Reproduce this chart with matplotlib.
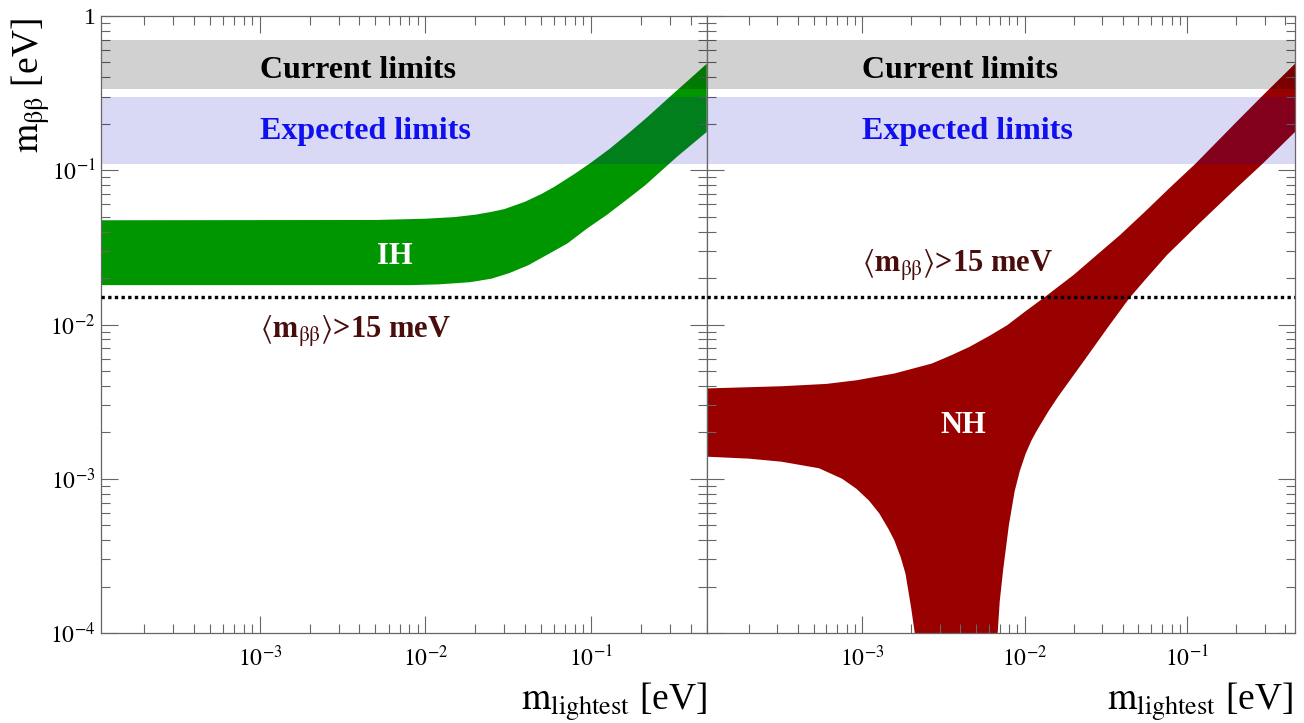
import numpy as np
import matplotlib
matplotlib.use("Agg")
import matplotlib.pyplot as plt
from matplotlib.ticker import FixedLocator, FixedFormatter, LogLocator, NullFormatter

# ---------------- data ----------------
# Inverted hierarchy band (left panel)
ih_up_x = [1.1e-4, 5e-3, 1e-2, 1.5e-2, 2e-2, 2.5e-2, 3e-2, 4e-2, 5e-2, 6e-2, 8e-2,
           0.1, 0.13, 0.17, 0.22, 0.3, 0.4, 0.5]
ih_up_y = [0.0474, 0.0476, 0.0485, 0.0497, 0.0515, 0.0537, 0.056, 0.0625, 0.070, 0.078,
           0.095, 0.112, 0.138, 0.175, 0.222, 0.30, 0.395, 0.49]
ih_lo_x = [1.1e-4, 8.2e-3, 1.2e-2, 1.86e-2, 2.5e-2, 3.2e-2, 4.18e-2, 5.5e-2, 7.2e-2,
           9.5e-2, 1.24e-1, 0.16, 2.13e-1, 0.33, 0.5]
ih_lo_y = [0.018, 0.018, 0.0182, 0.0188, 0.0198, 0.0215, 0.0242, 0.0285, 0.0335,
           0.042, 0.0511, 0.063, 0.080, 0.122, 0.177]

# Normal hierarchy band (right panel)
nh_up_x = [1.1e-4, 3.2e-4, 6e-4, 9.2e-4, 1.57e-3, 2.67e-3, 3.5e-3, 4.56e-3, 6e-3, 7.78e-3,
           1e-2, 1.33e-2, 2e-2, 2.8e-2, 3.85e-2, 5.5e-2, 7.8e-2, 0.112, 0.2, 0.3, 0.46]
nh_up_y = [0.00385, 0.00398, 0.00412, 0.00435, 0.00481, 0.00558, 0.0063, 0.00716, 0.0084,
           0.00989, 0.0121, 0.0151, 0.021, 0.0285, 0.038, 0.054, 0.077, 0.110, 0.205,
           0.315, 0.49]
nh_loL_x = [1.1e-4, 2e-4, 3.17e-4, 5.4e-4, 7.5e-4, 9.2e-4, 1.1e-3, 1.27e-3, 1.45e-3,
            1.57e-3, 1.72e-3, 1.84e-3, 1.99e-3, 2.1e-3]
nh_loL_y = [0.00139, 0.00135, 0.00129, 0.00117, 1.0e-3, 8.6e-4, 7.2e-4, 5.96e-4, 4.7e-4,
            4.0e-4, 3.1e-4, 2.43e-4, 1.48e-4, 1.0e-4]
nh_loR_x = [6.8e-3, 7.0e-3, 7.36e-3, 7.97e-3, 8.65e-3, 9.3e-3, 1.01e-2, 1.1e-2, 1.19e-2,
            1.4e-2, 1.6e-2, 2.36e-2, 3.27e-2, 4.39e-2, 5.5e-2, 7.49e-2, 0.12, 0.2, 0.29, 0.46]
nh_loR_y = [1.0e-4, 1.6e-4, 2.6e-4, 5.0e-4, 8.3e-4, 1.12e-3, 1.45e-3, 1.78e-3, 2.07e-3,
            2.75e-3, 3.4e-3, 6.0e-3, 0.0097, 0.0148, 0.0195, 0.0282, 0.0458, 0.0765, 0.110, 0.177]

current_limits = (0.335, 0.70)
expected_limits = (0.11, 0.30)
sensitivity = 0.015

xtick_vals = [1e-3, 1e-2, 1e-1]
xtick_labels = [r"$10^{-3}$", r"$10^{-2}$", r"$10^{-1}$"]
ytick_vals = [1e-4, 1e-3, 1e-2, 1e-1, 1.0]
ytick_labels = [r"$10^{-4}$", r"$10^{-3}$", r"$10^{-2}$", r"$10^{-1}$", "1"]

# ---------------- style ----------------
plt.rcParams["font.family"] = ["Liberation Serif", "DejaVu Serif"]
plt.rcParams["mathtext.fontset"] = "stix"

GREEN = "#009600"
RED = "#990000"
AXC = "#666666"

W, H = 1304, 723
fig = plt.figure(figsize=(W / 100, H / 100), dpi=100)


def rect(x0, x1, y0, y1):
    return [x0 / W, 1 - y1 / H, (x1 - x0) / W, (y1 - y0) / H]


axL = fig.add_axes(rect(101, 706.7, 16, 633))
axR = fig.add_axes(rect(706.7, 1295, 16, 633))
axL.set_xlim(1.1e-4, 0.5)
axR.set_xlim(1.1e-4, 0.46)

for ax in (axL, axR):
    ax.set_xscale("log")
    ax.set_yscale("log")
    ax.set_ylim(1e-4, 1.0)
    ax.xaxis.set_major_locator(FixedLocator(xtick_vals))
    ax.xaxis.set_major_formatter(FixedFormatter(xtick_labels))
    ax.yaxis.set_major_locator(FixedLocator(ytick_vals))
    ax.yaxis.set_major_formatter(FixedFormatter(ytick_labels))
    ax.xaxis.set_minor_locator(LogLocator(base=10, subs=np.arange(2, 10), numticks=30))
    ax.yaxis.set_minor_locator(LogLocator(base=10, subs=np.arange(2, 10), numticks=30))
    ax.xaxis.set_minor_formatter(NullFormatter())
    ax.yaxis.set_minor_formatter(NullFormatter())
    ax.tick_params(which="both", direction="in", top=True, right=True,
                   color=AXC, width=0.8, labelsize=17)
    ax.tick_params(which="major", length=12.5)
    ax.tick_params(which="minor", length=6.5)
    ax.tick_params(axis="x", pad=9)
    ax.tick_params(axis="y", pad=4)
    for s in ax.spines.values():
        s.set_color(AXC)
        s.set_linewidth(0.9)
    ax.axhspan(*current_limits, facecolor="black", alpha=0.18, lw=0, zorder=2)
    ax.axhspan(*expected_limits, facecolor="#0000c0", alpha=0.15, lw=0, zorder=2)
    ax.axhline(sensitivity, color="black", lw=2.4, linestyle=(0, (1, 1.0)), zorder=3)
    ax.text(1e-3, 0.399, "Current limits", fontweight="bold", fontsize=23,
            ha="left", va="baseline", color="black", zorder=5)
    ax.text(1e-3, 0.160, "Expected limits", fontweight="bold", fontsize=23,
            ha="left", va="baseline", color="#1010ee", zorder=5)

axR.tick_params(labelleft=False)

# bands
axL.fill(ih_up_x + ih_lo_x[::-1], ih_up_y + ih_lo_y[::-1], color=GREEN, lw=0, zorder=1)
axR.fill(nh_up_x + nh_loR_x[::-1] + nh_loL_x[::-1],
         nh_up_y + nh_loR_y[::-1] + nh_loL_y[::-1], color=RED, lw=0, zorder=1)

label15 = r"$\langle\mathbf{m}_{\mathrm{ββ}}\rangle$>15 meV"
MAROON = "#4a0d0d"
axL.text(1e-3, 0.00815, label15, fontweight="bold", fontsize=22, ha="left",
         va="baseline", color=MAROON, zorder=5)
axR.text(1e-3, 0.0219, label15, fontweight="bold", fontsize=22, ha="left",
         va="baseline", color=MAROON, zorder=5)

axL.text(6.5e-3, 0.0248, "IH", fontweight="bold", fontsize=22, ha="center",
         va="baseline", color="white", zorder=5)
axR.text(4.2e-3, 0.00198, "NH", fontweight="bold", fontsize=22, ha="center",
         va="baseline", color="white", zorder=5)

# axis titles
fig.text(31 / W, 1 - 18 / H, r"$\mathrm{m}_{\mathrm{ββ}}$ [eV]", rotation=90,
         ha="center", va="top", fontsize=27)
fig.text(706.7 / W, 1 - 710 / H, r"$\mathrm{m}_{\mathrm{lightest}}$ [eV]",
         ha="right", va="baseline", fontsize=27)
fig.text(1293 / W, 1 - 710 / H, r"$\mathrm{m}_{\mathrm{lightest}}$ [eV]",
         ha="right", va="baseline", fontsize=27)

fig.savefig("out.png", dpi=100)
